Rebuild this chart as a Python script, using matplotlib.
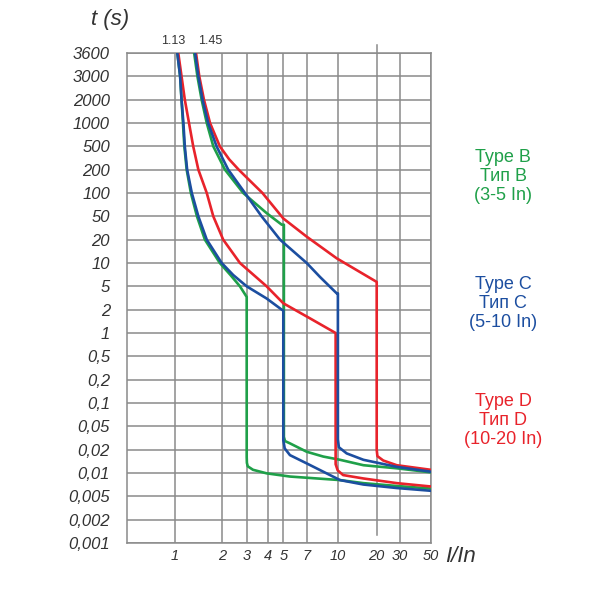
import numpy as np
import matplotlib
matplotlib.use("Agg")
import matplotlib.pyplot as plt

plt.rcParams['font.family'] = ['Liberation Sans', 'DejaVu Sans']

# ---- axis definitions (the chart uses an irregular grid) ----
Y_VALUES = [3600, 3000, 2000, 1000, 500, 200, 100, 50, 20, 10, 5, 2, 1,
            0.5, 0.2, 0.1, 0.05, 0.02, 0.01, 0.005, 0.002, 0.001]
Y_LABELS = ["3600", "3000", "2000", "1000", "500", "200", "100", "50", "20", "10",
            "5", "2", "1", "0,5", "0,2", "0,1", "0,05", "0,02", "0,01",
            "0,005", "0,002", "0,001"]
X_TICKS = [1, 2, 3, 4, 5, 7, 10, 20, 30, 50]
X_LABELS = ["1", "2", "3", "4", "5", "7", "10", "20", "30", "50"]

# grid column spacing as drawn (pixels), left edge mapped to 0.5
X_BREAKS = [0.5, 1, 2, 3, 4, 5, 7, 10, 20, 30, 50]
X_SPACING = [0, 48.3, 95, 120, 141, 156.6, 180, 211, 250, 273.3, 304]

# ---- curves (I/In, t in s) ----
b_lo_i = [1.05, 1.11, 1.14, 1.17, 1.20, 1.25, 1.34, 1.47, 1.64, 1.96, 2.35, 2.73, 3.0,
          3.0, 3.01, 3.05, 3.3, 3.95, 5.57, 10.6, 16.6, 28.6, 50]
b_lo_t = [3600, 3000, 2000, 1000, 500, 200, 100, 50, 20, 10, 7, 5, 3.3,
          0.016, 0.0135, 0.0122, 0.011, 0.0099, 0.009, 0.0081, 0.0074, 0.0068, 0.0063]

b_hi_i = [1.41, 1.48, 1.57, 1.68, 1.82, 2.13, 2.86, 3.95, 4.9, 5.05,
          5.05, 5.15, 5.57, 7, 8.6, 10.6, 16.6, 28.6, 50]
b_hi_t = [3600, 3000, 2000, 1000, 500, 200, 100, 55, 36, 36,
          0.033, 0.028, 0.0256, 0.0188, 0.0163, 0.0148, 0.0126, 0.0115, 0.0102]

c_lo_i = [1.05, 1.11, 1.14, 1.18, 1.21, 1.26, 1.36, 1.50, 1.68, 2.0, 2.46, 3.0, 3.95, 4.9, 5.0,
          5.0, 5.12, 5.57, 7, 8.6, 10.6, 16.6, 28.6, 50]
c_lo_t = [3600, 3000, 2000, 1000, 500, 200, 100, 50, 20, 10, 7, 5, 3.1, 2.0, 1.95,
          0.029, 0.021, 0.017, 0.0133, 0.0104, 0.0081, 0.0071, 0.0064, 0.0059]

c_hi_i = [1.43, 1.50, 1.59, 1.71, 1.89, 2.26, 2.93, 3.71, 4.79, 7, 8.29, 9.9, 10.05,
          10.05, 10.3, 12.3, 16.6, 28.6, 50]
c_hi_t = [3600, 3000, 2000, 1000, 500, 200, 100, 50, 20, 10, 6.6, 3.8, 3.8,
          0.03, 0.022, 0.0179, 0.0148, 0.012, 0.0104]

d_lo_i = [1.07, 1.14, 1.21, 1.30, 1.39, 1.50, 1.68, 1.82, 2.06, 2.73, 3.95, 5.0, 7.3, 9.8,
          9.8, 10.0, 11.4, 16.6, 28.6, 50]
d_lo_t = [3600, 3000, 2000, 1000, 500, 200, 100, 50, 20, 10, 5, 2.57, 1.55, 1.0,
          0.013, 0.0108, 0.0094, 0.0085, 0.0074, 0.0067]

d_hi_i = [1.45, 1.52, 1.62, 1.75, 1.96, 2.3, 2.68, 3.2, 3.75, 5, 7, 9.9, 20,
          20, 20.3, 22.8, 28.6, 50]
d_hi_t = [3600, 3000, 2000, 1000, 500, 300, 200, 140, 100, 46, 22.5, 11.5, 5.7,
          0.02, 0.0165, 0.0145, 0.0126, 0.011]

GREEN = "#1fa049"
BLUE = "#1c4ea0"
RED = "#e8232b"
GRID = "#8a8a8a"
TXT = "#333333"

# ---- scales ----
def xfwd(x):
    return np.interp(np.asarray(x, float), X_BREAKS, X_SPACING)

def xinv(p):
    return np.interp(np.asarray(p, float), X_SPACING, X_BREAKS)

Y_LOG = np.log10(Y_VALUES[::-1])
Y_POS = np.arange(len(Y_VALUES), dtype=float)

def yfwd(t):
    t = np.clip(np.asarray(t, float), 1e-9, None)
    return np.interp(np.log10(t), Y_LOG, Y_POS)

def yinv(p):
    return 10 ** np.interp(np.asarray(p, float), Y_POS, Y_LOG)

fig = plt.figure(figsize=(6, 6), dpi=100)
ax = fig.add_axes([126.7 / 600, 1 - 543 / 600, 304 / 600, 490 / 600])
ax.set_xscale('function', functions=(xfwd, xinv))
ax.set_yscale('function', functions=(yfwd, yinv))
ax.set_xlim(0.5, 50)
ax.set_ylim(0.001, 3600)

# grid
for v in Y_VALUES:
    ax.axhline(v, color=GRID, lw=1.1, zorder=1)
for v in X_TICKS:
    if v == 20:
        ax.axvline(v, ymin=0.016, ymax=1.016, color=GRID, lw=1.1, zorder=1, clip_on=False)
    else:
        ax.axvline(v, color=GRID, lw=1.1, zorder=1)
for s in ax.spines.values():
    s.set_color(GRID)
    s.set_linewidth(1.1)

lw = 1.9
ax.plot(b_lo_i, b_lo_t, color=GREEN, lw=lw, zorder=3, solid_joinstyle='round')
ax.plot(b_hi_i, b_hi_t, color=GREEN, lw=lw, zorder=3, solid_joinstyle='round')
ax.plot(d_lo_i, d_lo_t, color=RED, lw=lw, zorder=4, solid_joinstyle='round')
ax.plot(d_hi_i, d_hi_t, color=RED, lw=lw, zorder=4, solid_joinstyle='round')
ax.plot(c_lo_i, c_lo_t, color=BLUE, lw=lw, zorder=5, solid_joinstyle='round')
ax.plot(c_hi_i, c_hi_t, color=BLUE, lw=lw, zorder=5, solid_joinstyle='round')

ax.set_yticks(Y_VALUES, Y_LABELS)
ax.set_xticks(X_TICKS, X_LABELS)
ax.minorticks_off()
ax.tick_params(axis='both', length=0, colors=TXT)
ax.tick_params(axis='y', pad=12, labelsize=12)
ax.tick_params(axis='x', pad=4, labelsize=10.5)
for lab in ax.get_yticklabels() + ax.get_xticklabels():
    lab.set_fontstyle('italic')

# labels
fig.text(110 / 600, 1 - 20 / 600, "t (s)", fontsize=16, style='italic', color=TXT,
         ha='center', va='center')
fig.text(461 / 600, 1 - 556 / 600, "I/In", fontsize=16, style='italic', color=TXT,
         ha='center', va='center')
fig.text(173.5 / 600, 1 - 41 / 600, "1.13", fontsize=9, color=TXT, ha='center', va='center')
fig.text(210 / 600, 1 - 41 / 600, "1.45", fontsize=9, color=TXT, ha='center', va='center')

legend_items = [("Type B\nТип B\n(3-5 In)", GREEN, 176.7),
                ("Type C\nТип C\n(5-10 In)", BLUE, 303.5),
                ("Type D\nТип D\n(10-20 In)", RED, 420.5)]
for txt, col, ypx in legend_items:
    fig.text(503 / 600, 1 - ypx / 600, txt, fontsize=13, color=col, ha='center',
             va='center', multialignment='center', linespacing=1.15)

fig.savefig("out.png", dpi=100, facecolor='white')
